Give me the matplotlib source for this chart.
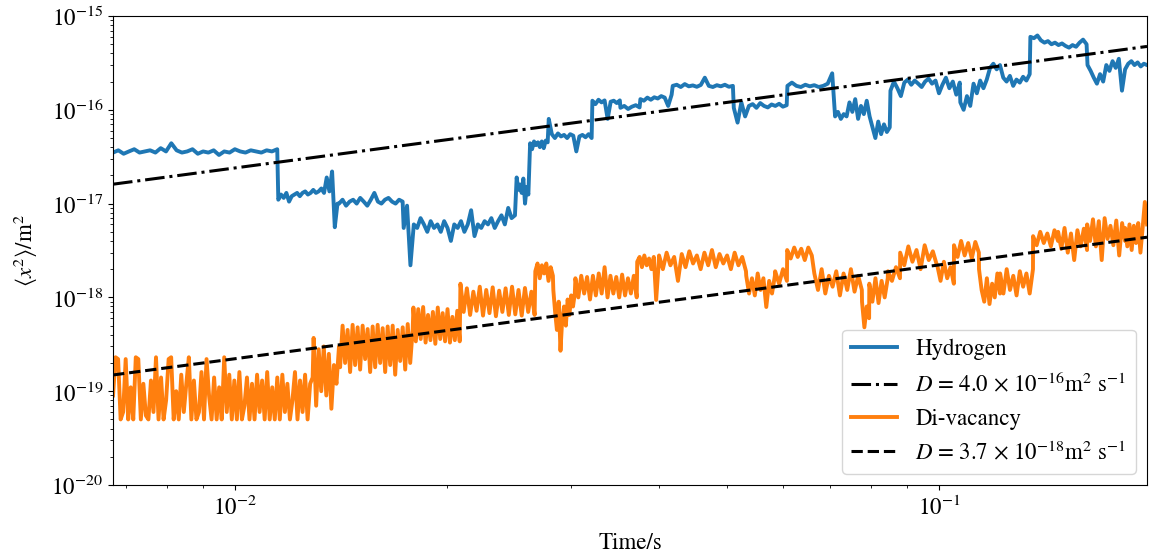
import numpy as np
import matplotlib
matplotlib.use('Agg')
import matplotlib.pyplot as plt
from matplotlib.ticker import NullFormatter

plt.rcParams['font.family'] = 'STIXGeneral'
plt.rcParams['mathtext.fontset'] = 'stix'
plt.rcParams['font.size'] = 16.5

# Hydrogen MSD, units of 1e-17 m^2, recorded in time segments (s)
h_seg_times = [
    (0.00671, 0.01148), (0.01152, 0.01398), (0.01405, 0.01730), (0.01736, 0.02498),
    (0.02512, 0.02610), (0.02625, 0.02780), (0.02790, 0.03210), (0.03218, 0.03520),
    (0.03527, 0.03755), (0.03765, 0.04170), (0.04185, 0.05095), (0.05110, 0.06075),
    (0.06090, 0.07050), (0.07117, 0.08510), (0.08530, 0.10700), (0.10720, 0.13450),
    (0.13480, 0.16200), (0.16250, 0.19740),
]
h_seg_vals = [
    [3.5, 3.7, 3.4, 3.6, 3.8, 3.5, 3.6, 3.7, 3.5, 3.9, 3.6, 4.4, 3.7, 3.5, 3.6, 3.8,
     3.4, 3.6, 3.5, 3.7, 3.3, 3.6, 3.5, 3.8, 3.6, 3.5, 3.7, 3.6, 3.5, 3.7, 3.6, 3.8],
    [1.1, 1.25, 1.15, 1.3, 1.05, 1.2, 1.25, 1.3, 1.2, 1.3, 1.35, 1.25, 1.3, 1.4, 1.3,
     1.35, 1.45, 1.3, 1.9, 1.35, 2.2, 0.56, 1.0],
    [1.0, 1.1, 0.95, 1.05, 1.1, 1.0, 1.15, 1.05, 0.95, 1.1, 1.3, 1.05, 1.0, 1.1, 1.15,
     1.05, 1.0, 1.1, 1.05],
    [0.55, 0.95, 0.22, 0.6, 0.55, 0.7, 0.6, 0.5, 0.65, 0.55, 0.6, 0.5, 0.65, 0.55, 0.4,
     0.6, 0.55, 0.65, 0.5, 0.6, 0.85, 0.45, 0.6, 0.55, 0.65, 0.6, 0.7, 0.55, 0.65, 0.75,
     0.6, 0.9, 0.7, 0.75],
    [1.9, 1.4, 1.6, 1.3, 1.85, 1.0, 1.5, 1.25],
    [4.4, 3.8, 4.6, 4.2, 4.5, 4.0, 4.6, 3.9, 4.7, 4.5],
    [8.0, 5.5, 5.0, 5.6, 5.2, 5.4, 5.0, 5.5, 5.3, 3.6, 5.2, 5.4, 5.1, 5.5, 5.0],
    [12.5, 11.5, 12.8, 12.0, 12.6, 8.0, 12.2, 12.5, 11.8, 12.6],
    [10.5, 11.0, 10.2, 10.8, 11.2, 10.6],
    [13.0, 12.5, 13.5, 12.8, 13.6, 13.2, 14.0, 13.5, 11.0, 14.5],
    [18.0, 18.5, 17.5, 18.8, 17.8, 18.2, 17.6, 18.4, 22.0, 18.0, 17.5, 18.3, 17.8, 18.5,
     17.6, 18.0],
    [10.5, 7.3, 12.0, 8.5, 11.0, 11.5, 10.5, 11.8, 11.0, 10.6, 11.4, 11.0, 11.6, 10.8, 11.2],
    [18.0, 19.5, 18.0, 17.5, 18.5, 17.8, 18.3, 17.5, 18.0, 19.0, 24.5],
    [8.5, 9.5, 8.0, 9.0, 8.5, 12.0, 9.5, 13.0, 8.0, 11.0, 9.0, 12.5, 8.5, 6.5, 5.0, 7.5,
     5.5, 7.0, 5.8, 6.5],
    [16.0, 20.0, 17.0, 14.0, 19.5, 21.0, 18.5, 20.5, 19.0, 17.5, 20.0, 21.5, 19.0, 20.5,
     15.0, 18.5, 22.0, 17.0, 20.0, 14.5, 19.5],
    [12.0, 10.0, 14.0, 11.0, 19.0, 15.0, 20.5, 17.0, 21.0, 28.0, 31.0, 27.0, 30.0, 22.0,
     20.0, 23.0, 18.0, 21.0, 19.5, 22.5, 20.5, 24.0],
    [60, 58, 62, 55, 52, 54, 50, 52, 49, 51, 48, 46, 49, 47, 52, 56, 50],
    [30, 26, 22, 19, 24, 20, 30, 26, 33, 28, 35, 16, 27, 31, 33, 30, 32, 29, 31, 30],
]

# Di-vacancy MSD, units of 1e-19 m^2
v_seg_times = [
    (0.00671, 0.01289), (0.01293, 0.01405), (0.01410, 0.01788), (0.01792, 0.02085),
    (0.02090, 0.02664), (0.02670, 0.02828), (0.02832, 0.03038), (0.03044, 0.03720),
    (0.03726, 0.03995), (0.04002, 0.05318), (0.05322, 0.05845), (0.05850, 0.06080),
    (0.06085, 0.06595), (0.06650, 0.07768), (0.07772, 0.07955), (0.07960, 0.08455),
    (0.08460, 0.08800), (0.08805, 0.09930), (0.09940, 0.10495), (0.10500, 0.11390),
    (0.11395, 0.12205), (0.12210, 0.13595), (0.13600, 0.14755), (0.14760, 0.16225),
    (0.16230, 0.18370), (0.18375, 0.19740),
]
v_seg_vals = [
    [0.9, 2.3, 2.2, 0.5, 0.6, 2.2, 0.5, 1.1, 0.5, 2.3, 2.2, 0.5, 1.2, 0.55, 0.5, 1.3,
     0.6, 2.3, 0.5, 1.4, 0.5, 0.8, 2.2, 2.3, 0.5, 1.0, 0.5, 1.5, 0.6, 1.2, 2.3, 0.5,
     1.3, 0.5, 0.6, 1.6, 0.5, 2.2, 0.9, 0.5, 1.4, 0.5, 1.1, 0.5, 2.3, 0.6, 1.5, 0.5,
     1.3, 0.5, 1.6, 0.5, 0.7, 1.4, 0.5, 1.2, 0.5, 1.5, 0.6, 1.3, 0.5, 1.6, 0.5, 1.1,
     0.5, 1.4, 0.5, 1.5, 0.6, 1.2, 0.5, 0.8, 1.6, 0.5, 1.3, 0.6, 1.5, 0.5, 1.2, 1.4],
    [3.7, 0.7, 2.8, 1.0, 3.0, 0.9, 2.5, 0.65, 1.9, 1.2, 3.0],
    [1.8, 5.0, 2.0, 4.5, 1.6, 5.1, 1.9, 4.8, 1.7, 5.0, 2.2, 4.6, 1.6, 4.9, 1.8, 5.1,
     2.0, 4.7, 1.6, 4.9, 1.9, 5.0, 1.5, 4.5, 2.1, 4.8, 1.7, 5.2, 2.0, 4.6],
    [7.8, 3.4, 7.5, 3.6, 7.9, 3.3, 6.5, 3.5, 7.0, 3.2, 7.8, 3.6, 6.8, 3.4, 7.5, 3.3,
     6.2, 3.5, 7.2, 3.4],
    [14.0, 7.0, 12.5, 6.5, 11.5, 7.2, 13.0, 6.4, 12.0, 6.8, 12.8, 6.3, 11.8, 7.0, 12.5,
     6.5, 13.0, 6.6, 12.0, 6.4, 12.6, 7.0, 11.5, 6.5],
    [19, 23, 16, 22, 18, 23, 15, 21, 17],
    [12, 7, 4.5, 9, 2.7, 6, 8, 5, 9.5, 6.5, 10.5, 8, 11],
    [16, 10, 17, 11, 16.5, 9.5, 17, 10.5, 18, 11, 21, 10, 17, 11, 16.5, 10, 17.5, 10.5,
     16, 11, 17, 10],
    [24, 27, 21, 28, 22, 26, 20, 27, 9.4, 22],
    [28, 20, 30, 22, 27, 15, 29, 21, 31, 23, 28, 20, 30, 22, 32, 21, 29, 23, 28, 20, 30,
     22, 27, 19],
    [17, 11, 16, 10.5, 18, 12, 16, 7.9, 15, 11, 17],
    [19, 14, 20, 15],
    [32, 26, 34, 27, 33, 25, 34, 28],
    [18, 12, 20, 11, 17, 13, 19, 10.5, 18, 12, 20, 11.5, 17, 12],
    [9, 4.8, 8, 6],
    [14, 9, 16, 8.7, 15, 10, 16],
    [19, 15, 21, 16],
    [30, 22, 35, 24, 32, 20, 36, 25, 31, 22],
    [22, 15, 24, 16, 21, 14],
    [36, 27, 40, 28, 38, 26, 39, 30],
    [20, 12, 9, 16, 8.5, 14, 10, 18, 11],
    [18, 11, 20, 12, 17, 10.5, 19, 13, 18, 11, 20],
    [45, 36, 50, 38, 48, 35, 52, 40],
    [50, 33, 55, 30, 48, 25, 52, 35, 54, 32],
    [60, 40, 68, 35, 65, 25, 70, 42, 58, 36, 66, 28, 62, 40],
    [55, 35, 60, 32, 58, 38, 62, 30, 55, 104, 60],
]

# fitted diffusion coefficients (m^2/s), <x^2> = 6 D t
D_h = 4.0e-16
D_v = 3.7e-18


def build(seg_times, seg_vals, unit):
    t = np.concatenate([np.geomspace(a, b, len(v)) for (a, b), v in zip(seg_times, seg_vals)])
    y = np.concatenate([np.array(v, dtype=float) for v in seg_vals]) * unit
    return t, y


t_h, msd_h = build(h_seg_times, h_seg_vals, 1e-17)
t_v, msd_v = build(v_seg_times, v_seg_vals, 1e-19)
t_fit = np.array([t_h.min(), t_h.max()])

fig, ax = plt.subplots(figsize=(11.5, 5.56), dpi=100)
fig.subplots_adjust(left=0.0983, right=0.9974, top=0.9712, bottom=0.1277)

ax.plot(t_h, msd_h, color='tab:blue', linewidth=2.8, label='Hydrogen')
ax.plot(t_fit, 6 * D_h * t_fit, color='black', linestyle='-.', linewidth=2.2,
        label=r'$D$ = 4.0 $\times$ 10$^{-16}$m$^2$ s$^{-1}$')
ax.plot(t_v, msd_v, color='tab:orange', linewidth=2.8, label='Di-vacancy')
ax.plot(t_fit, 6 * D_v * t_fit, color='black', linestyle='--', linewidth=2.2,
        label=r'$D$ = 3.7 $\times$ 10$^{-18}$m$^2$ s$^{-1}$')

ax.set_xscale('log')
ax.set_yscale('log')
ax.set_xlim(t_h.min(), t_h.max())
ax.set_ylim(1e-20, 1e-15)
ax.xaxis.set_minor_formatter(NullFormatter())

ax.set_xlabel('Time/s', labelpad=10)
ax.set_ylabel(r'$\langle x^2\rangle$/m$^2$', labelpad=8)
ax.legend(loc='lower right')

fig.savefig('out.png', dpi=100)
